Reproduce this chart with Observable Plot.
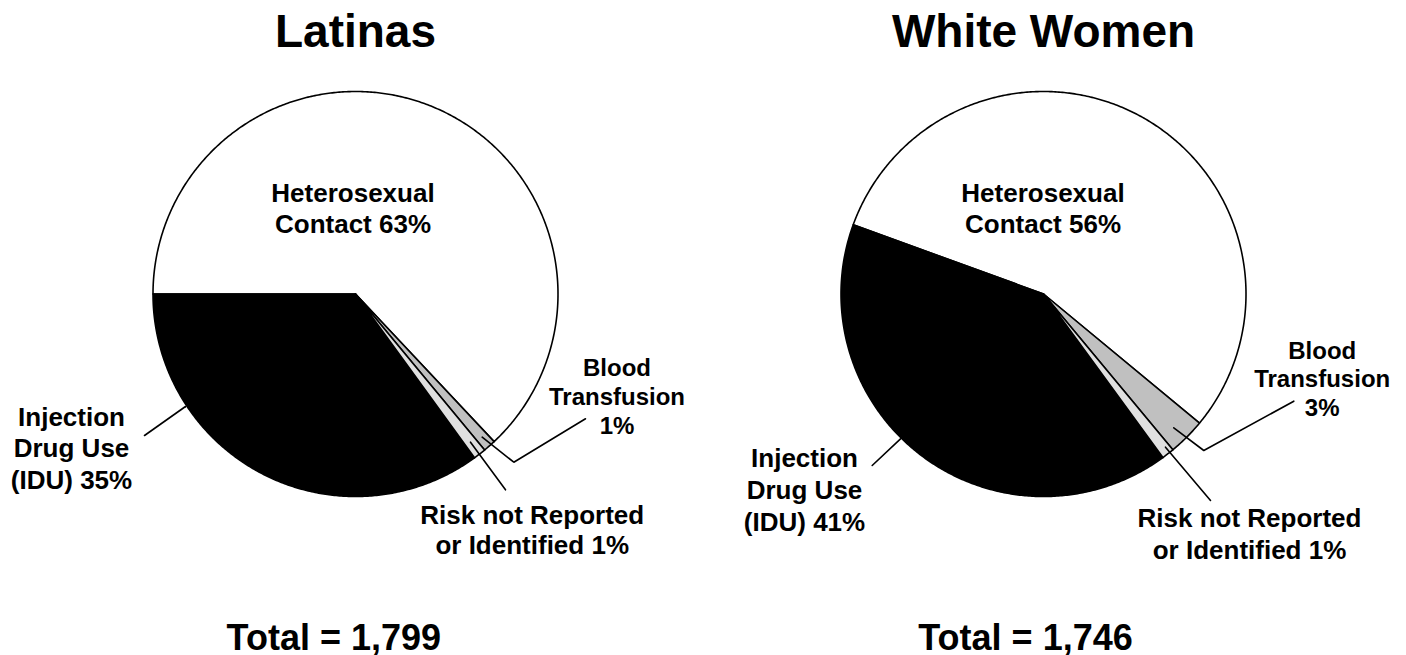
<!DOCTYPE html>
<html>
<head>
<meta charset="utf-8">
<script src="https://cdn.jsdelivr.net/npm/d3@7"></script>
<script src="https://cdn.jsdelivr.net/npm/@observablehq/plot@0.6"></script>
<style>
  html, body { margin: 0; padding: 0; background: #fff; }
</style>
</head>
<body>
<div id="chart"></div>
<script>
// ---- Data ----
const groups = ["Latinas", "White Women"];
const categories = [
  "Heterosexual Contact",
  "Blood Transfusion",
  "Risk not Reported or Identified",
  "Injection Drug Use (IDU)"
];
const latinasPercent = [63, 1, 1, 35];
const whiteWomenPercent = [56, 3, 1, 41];
const totals = [1799, 1746];

// label wording (line breaks) per category
const labelTemplates = [
  v => `Heterosexual\nContact ${v}%`,
  v => `Blood\nTransfusion\n${v}%`,
  v => `Risk not Reported\nor Identified ${v}%`,
  v => `Injection\nDrug Use\n(IDU) ${v}%`
];

// ---- Layout / style ----
const W = 1406, H = 655;
const FONT = "'Liberation Sans', Arial, Helvetica, sans-serif";
const sliceColors = ["#ffffff", "#c0c0c0", "#e0e0e0", "#000000"];
const pieLayout = [
  {cx: 355, cy: 293.5, r: 202.5, start: 270},
  {cx: 1043, cy: 293.5, r: 202.5, start: 290}
];
// per category font size
const labelFontSizes = [26, 24, 26, 26];
// [x center, first baseline, line spacing]
const labelLayout = [
  [[352.5, 201.7, 31], [616.5, 375, 29], [531.7, 523.3, 30], [71, 425, 31.5]],
  [[1042.5, 201.7, 31], [1321.7, 358.3, 28.5], [1249, 526.7, 31.3], [804, 466.7, 31.7]]
];
const leaderLayout = [
  [null, [[481.7, 436.7], [513.3, 461.7], [585, 418.3]], [[470, 441.7], [505, 489.3]], [[185, 406], [144, 435]]],
  [null, [[1173.3, 427.3], [1203.3, 450], [1293.3, 400.7]], [[1165, 446.7], [1210, 500]], [[900, 438.3], [871.7, 465]]]
];
const titleLayout = [[355, 46.7], [1043, 46.7]];
const totalLayout = [[333.3, 649], [1025, 649]];

// ---- Build slice polygons from the values ----
const seriesValues = [latinasPercent, whiteWomenPercent];
const slices = [];
groups.forEach((g, gi) => {
  const vals = seriesValues[gi];
  const sum = d3.sum(vals);
  const {cx, cy, r, start} = pieLayout[gi];
  let a = start;
  vals.forEach((v, ci) => {
    const a0 = a, a1 = a + v / sum * 360;
    a = a1;
    const n = Math.max(2, Math.ceil((a1 - a0) / 0.5));
    const pts = [{x: cx, y: cy}];
    for (let k = 0; k <= n; k++) {
      const t = (a0 + (a1 - a0) * k / n) * Math.PI / 180;
      pts.push({x: cx + r * Math.sin(t), y: cy - r * Math.cos(t)});
    }
    pts.push({x: cx, y: cy});
    pts.forEach(p => slices.push({...p, group: g, category: categories[ci], ci}));
  });
});

// leader lines
const leaders = [];
leaderLayout.forEach((arr, gi) => arr.forEach((pts, ci) => {
  if (!pts) return;
  pts.forEach(([x, y]) => leaders.push({x, y, id: `${gi}-${ci}`}));
}));

const marks = [];
// draw order: hetero, IDU, then small slices
[0, 3, 1, 2].forEach(ci => {
  marks.push(Plot.line(slices.filter(d => d.ci === ci), {
    x: "x", y: "y", z: "group",
    fill: sliceColors[ci], stroke: "#000", strokeWidth: 1.6,
    strokeLinejoin: "round", curve: "linear"
  }));
});
marks.push(Plot.line(leaders, {x: "x", y: "y", z: "id", stroke: "#000", strokeWidth: 1.6, strokeLinejoin: "miter"}));

// slice labels
groups.forEach((g, gi) => {
  seriesValues[gi].forEach((v, ci) => {
    const text = labelTemplates[ci](v);
    const n = text.split("\n").length;
    const fs = labelFontSizes[ci];
    const [x, b, sp] = labelLayout[gi][ci];
    marks.push(Plot.text([{x, y: b + (n - 1) * sp, text}], {
      x: "x", y: "y", text: "text",
      fontSize: fs, fontWeight: "bold", fill: "#000",
      textAnchor: "middle", lineAnchor: "bottom", lineHeight: sp / fs
    }));
  });
});

// titles & totals
marks.push(Plot.text(groups.map((g, i) => ({x: titleLayout[i][0], y: titleLayout[i][1], text: g})), {
  x: "x", y: "y", text: "text", fontSize: 46, fontWeight: "bold", fill: "#000",
  textAnchor: "middle", lineAnchor: "bottom"
}));
const fmt = d3.format(",");
marks.push(Plot.text(totals.map((t, i) => ({x: totalLayout[i][0], y: totalLayout[i][1], text: `Total = ${fmt(t)}`})), {
  x: "x", y: "y", text: "text", fontSize: 36, fontWeight: "bold", fill: "#000",
  textAnchor: "middle", lineAnchor: "bottom"
}));

const chart = Plot.plot({
  width: W, height: H,
  margin: 0,
  x: {domain: [0, W], range: [0, W], axis: null},
  y: {domain: [0, H], range: [0, H], axis: null},
  style: {fontFamily: FONT, background: "#fff", overflow: "visible"},
  marks
});
document.getElementById("chart").appendChild(chart);
</script>
</body>
</html>
